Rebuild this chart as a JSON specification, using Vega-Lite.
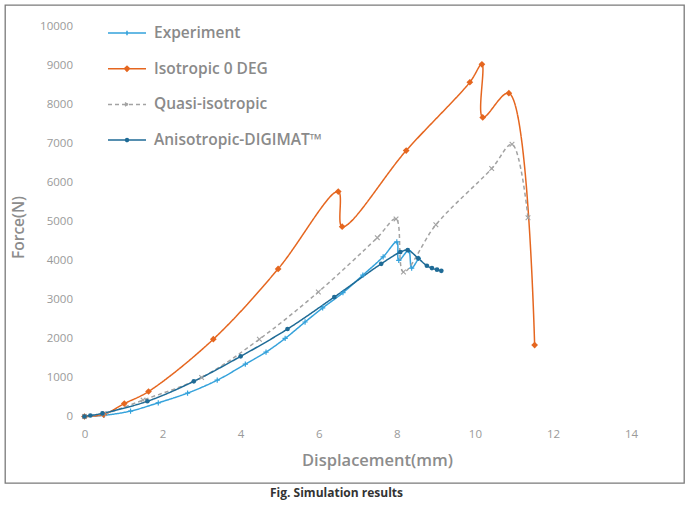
{
  "$schema": "https://vega.github.io/schema/vega-lite/v6.json",
  "autosize": "none",
  "width": 679,
  "height": 478,
  "padding": {"left": 5, "top": 5, "right": 2, "bottom": 25},
  "background": "white",
  "config": {
    "view": {"stroke": "#7a7a7a", "strokeWidth": 1.3},
    "font": "Open Sans"
  },
  "title": {"text": "Fig. Simulation results", "orient": "bottom", "anchor": "middle", "frame": "group", "dx": -8, "fontSize": 12, "fontWeight": "bold", "color": "#333333", "offset": 5, "font": "Open Sans"},
  "data": {"values": [
    {"series": "Experiment", "disp": 0, "force": 0},
    {"series": "Experiment", "disp": 0.5, "force": 30},
    {"series": "Experiment", "disp": 1.18, "force": 140},
    {"series": "Experiment", "disp": 1.89, "force": 350},
    {"series": "Experiment", "disp": 2.64, "force": 600},
    {"series": "Experiment", "disp": 3.4, "force": 930},
    {"series": "Experiment", "disp": 4.12, "force": 1340},
    {"series": "Experiment", "disp": 4.65, "force": 1650},
    {"series": "Experiment", "disp": 5.14, "force": 2000},
    {"series": "Experiment", "disp": 5.65, "force": 2420},
    {"series": "Experiment", "disp": 6.1, "force": 2780},
    {"series": "Experiment", "disp": 6.62, "force": 3170},
    {"series": "Experiment", "disp": 7.13, "force": 3620},
    {"series": "Experiment", "disp": 7.65, "force": 4090},
    {"series": "Experiment", "disp": 8.0, "force": 4470},
    {"series": "Experiment", "disp": 8.05, "force": 4000},
    {"series": "Experiment", "disp": 8.3, "force": 4250},
    {"series": "Experiment", "disp": 8.38, "force": 3800},
    {"series": "Experiment", "disp": 8.55, "force": 4050},
    {"series": "Isotropic 0 DEG", "disp": 0, "force": 0},
    {"series": "Isotropic 0 DEG", "disp": 0.49, "force": 50},
    {"series": "Isotropic 0 DEG", "disp": 1.02, "force": 330},
    {"series": "Isotropic 0 DEG", "disp": 1.64, "force": 640},
    {"series": "Isotropic 0 DEG", "disp": 3.3, "force": 1980},
    {"series": "Isotropic 0 DEG", "disp": 4.96, "force": 3780},
    {"series": "Isotropic 0 DEG", "disp": 6.5, "force": 5760},
    {"series": "Isotropic 0 DEG", "disp": 6.6, "force": 4860},
    {"series": "Isotropic 0 DEG", "disp": 8.24, "force": 6810},
    {"series": "Isotropic 0 DEG", "disp": 9.87, "force": 8560},
    {"series": "Isotropic 0 DEG", "disp": 10.18, "force": 9020},
    {"series": "Isotropic 0 DEG", "disp": 10.2, "force": 7660},
    {"series": "Isotropic 0 DEG", "disp": 10.87, "force": 8280},
    {"series": "Isotropic 0 DEG", "disp": 11.53, "force": 1830},
    {"series": "Quasi-isotropic", "disp": 0, "force": 0},
    {"series": "Quasi-isotropic", "disp": 0.5, "force": 70},
    {"series": "Quasi-isotropic", "disp": 1.5, "force": 420},
    {"series": "Quasi-isotropic", "disp": 3.0, "force": 1000},
    {"series": "Quasi-isotropic", "disp": 4.48, "force": 1980},
    {"series": "Quasi-isotropic", "disp": 5.99, "force": 3190},
    {"series": "Quasi-isotropic", "disp": 7.5, "force": 4580},
    {"series": "Quasi-isotropic", "disp": 7.98, "force": 5060},
    {"series": "Quasi-isotropic", "disp": 8.17, "force": 3700},
    {"series": "Quasi-isotropic", "disp": 9.0, "force": 4910},
    {"series": "Quasi-isotropic", "disp": 10.43, "force": 6350},
    {"series": "Quasi-isotropic", "disp": 10.95, "force": 6970},
    {"series": "Quasi-isotropic", "disp": 11.36, "force": 5090},
    {"series": "Anisotropic-DIGIMAT™", "disp": 0, "force": 0},
    {"series": "Anisotropic-DIGIMAT™", "disp": 0.15, "force": 25},
    {"series": "Anisotropic-DIGIMAT™", "disp": 0.46, "force": 80},
    {"series": "Anisotropic-DIGIMAT™", "disp": 1.61, "force": 390},
    {"series": "Anisotropic-DIGIMAT™", "disp": 2.8, "force": 900},
    {"series": "Anisotropic-DIGIMAT™", "disp": 4.0, "force": 1540},
    {"series": "Anisotropic-DIGIMAT™", "disp": 5.2, "force": 2240},
    {"series": "Anisotropic-DIGIMAT™", "disp": 6.4, "force": 3060},
    {"series": "Anisotropic-DIGIMAT™", "disp": 7.6, "force": 3910},
    {"series": "Anisotropic-DIGIMAT™", "disp": 8.09, "force": 4210},
    {"series": "Anisotropic-DIGIMAT™", "disp": 8.28, "force": 4260},
    {"series": "Anisotropic-DIGIMAT™", "disp": 8.55, "force": 4050},
    {"series": "Anisotropic-DIGIMAT™", "disp": 8.77, "force": 3860},
    {"series": "Anisotropic-DIGIMAT™", "disp": 8.9, "force": 3800},
    {"series": "Anisotropic-DIGIMAT™", "disp": 9.03, "force": 3760},
    {"series": "Anisotropic-DIGIMAT™", "disp": 9.14, "force": 3730}
  ]},
  "encoding": {
    "x": {"field": "disp", "type": "quantitative",
      "scale": {"domain": [-2.036, 15.356], "nice": false, "zero": false},
      "axis": {"values": [0, 2, 4, 6, 8, 10, 12, 14], "format": "d", "offset": -66.5, "domain": false, "ticks": false, "tickSize": 0, "grid": false,
        "labelPadding": 12, "labelFontSize": 11.5, "labelColor": "#9a9a9a", "labelFont": "Open Sans",
        "title": "Displacement(mm)", "titleFontSize": 16.5, "titleColor": "#8c8c8c", "titleFont": "Open Sans", "titleFontWeight": 600,
        "titleX": 372, "titleY": 44, "titleBaseline": "middle", "titleAlign": "center"}},
    "y": {"field": "force", "type": "quantitative",
      "scale": {"domain": [-1703, 10538], "nice": false, "zero": false},
      "axis": {"values": [0, 1000, 2000, 3000, 4000, 5000, 6000, 7000, 8000, 9000, 10000], "format": "d", "offset": -79.5, "domain": false, "ticks": false, "tickSize": 0, "grid": false,
        "labelPadding": 12, "labelFontSize": 11.5, "labelColor": "#9a9a9a", "labelFont": "Open Sans",
        "title": "Force(N)", "titleFontSize": 15.5, "titleColor": "#8c8c8c", "titleFont": "Open Sans", "titleFontWeight": 600,
        "titleX": -66, "titleY": 222, "titleBaseline": "middle", "titleAlign": "center", "titleAngle": -90}}
  },
  "layer": [
    {
      "data": {"values": [{}]},
      "mark": {"type": "rule", "color": "#cfcfcf", "strokeWidth": 1},
      "encoding": {"x": {"datum": 0}, "x2": {"datum": 15}, "y": {"datum": 0}}
    },
    {
      "data": {"values": [{}]},
      "mark": {"type": "rule", "color": "#cfcfcf", "strokeWidth": 1},
      "encoding": {"x": {"datum": 0}, "y": {"datum": 0}, "y2": {"datum": 10000}}
    },
    {
      "mark": {"type": "line", "interpolate": "catmull-rom", "strokeWidth": 1.5},
      "encoding": {
        "color": {"field": "series", "type": "nominal",
          "scale": {"domain": ["Experiment", "Isotropic 0 DEG", "Quasi-isotropic", "Anisotropic-DIGIMAT™"], "range": ["#35a2db", "#e5661f", "#a3a3a3", "#1f6b96"]},
          "legend": {"title": null, "orient": "none", "legendX": 102, "legendY": 8, "padding": 0,
            "symbolSize": 1444, "symbolStrokeWidth": 1.5, "rowPadding": 6.7, "labelOffset": 7,
            "labelFont": "Open Sans", "labelFontSize": 15.5, "labelFontWeight": 600, "labelColor": "#8a8a8a", "labelLimit": 400,
            "encode": {"symbols": {"update": {"fill": {"scale": "color", "field": "value"}}}}}},
        "strokeDash": {"field": "series", "type": "nominal",
          "scale": {"domain": ["Experiment", "Isotropic 0 DEG", "Quasi-isotropic", "Anisotropic-DIGIMAT™"], "range": [[1, 0], [1, 0], [4, 3], [1, 0]]}}
      }
    },
    {
      "transform": [{"filter": "datum.series === 'Experiment'"}],
      "mark": {"type": "point", "shape": "M-1,0H1M0,-1V1", "filled": false, "size": 28, "strokeWidth": 1.2, "opacity": 1},
      "encoding": {"color": {"field": "series", "type": "nominal"}}
    },
    {
      "transform": [{"filter": "datum.series === 'Isotropic 0 DEG'"}],
      "mark": {"type": "point", "shape": "diamond", "filled": true, "size": 45, "opacity": 1},
      "encoding": {"color": {"field": "series", "type": "nominal"}}
    },
    {
      "transform": [{"filter": "datum.series === 'Quasi-isotropic'"}],
      "mark": {"type": "point", "shape": "M-1,-1L1,1M-1,1L1,-1", "filled": false, "size": 22, "strokeWidth": 1.1, "opacity": 1},
      "encoding": {"color": {"field": "series", "type": "nominal"}}
    },
    {
      "transform": [{"filter": "datum.series === 'Anisotropic-DIGIMAT™'"}],
      "mark": {"type": "point", "shape": "circle", "filled": true, "size": 22, "opacity": 1},
      "encoding": {"color": {"field": "series", "type": "nominal"}}
    },
    {
      "mark": {"type": "point", "opacity": 0},
      "encoding": {
        "color": {"field": "series", "type": "nominal"},
        "shape": {"field": "series", "type": "nominal",
          "scale": {"domain": ["Experiment", "Isotropic 0 DEG", "Quasi-isotropic", "Anisotropic-DIGIMAT™"],
            "range": ["M-1,0H1M0,-0.12V0.12", "M-1,0H1M0,-0.13L0.13,0L0,0.13L-0.13,0Z", "M-1,0H1M-0.1,-0.1L0.1,0.1M-0.1,0.1L0.1,-0.1", "M-1,0H1M0.08,0A0.08,0.08 0 1 1 -0.08,0A0.08,0.08 0 1 1 0.08,0Z"]}}
      }
    }
  ]
}
